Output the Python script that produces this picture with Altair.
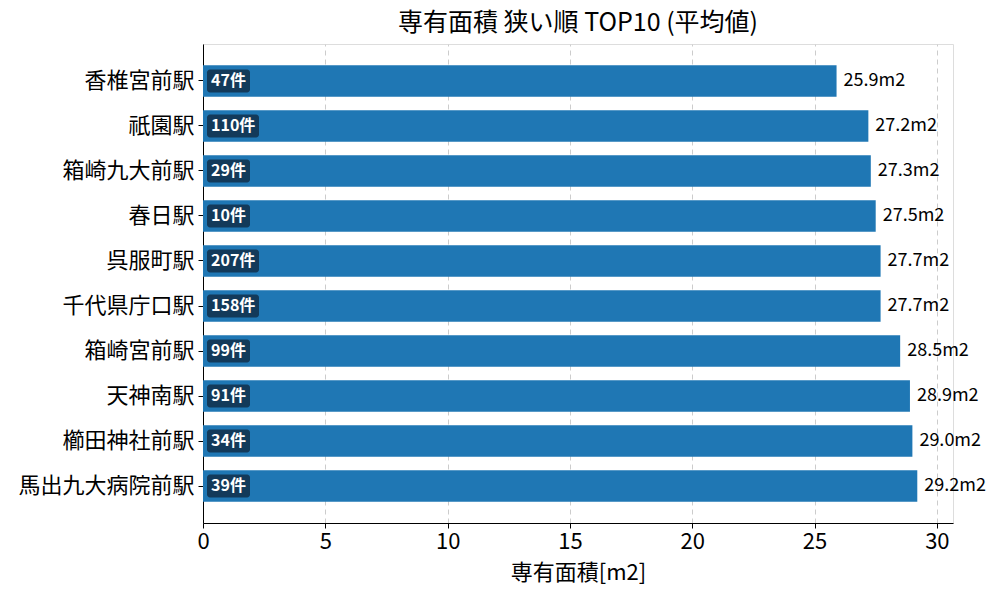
import altair as alt
import pandas as pd

stations = ["香椎宮前駅", "祇園駅", "箱崎九大前駅", "春日駅", "呉服町駅",
            "千代県庁口駅", "箱崎宮前駅", "天神南駅", "櫛田神社前駅", "馬出九大病院前駅"]
areas = [25.9, 27.2, 27.3, 27.5, 27.7, 27.7, 28.5, 28.9, 29.0, 29.2]
counts = [47, 110, 29, 10, 207, 158, 99, 91, 34, 39]

W, H = 750, 479
XMAX = 30.66
PX = W / XMAX

df = pd.DataFrame({"station": stations, "area": areas, "count": counts})
df["area_label"] = df["area"].map(lambda v: f"{v:.1f}m2")
df["count_label"] = df["count"].map(lambda v: f"{v}件")
df["b0"] = 4 / PX
df["b1"] = df["count"].map(lambda v: (4 + 25 + 9 * len(str(v))) / PX)

FONT = "Noto Sans CJK JP"

yenc = alt.Y("station:N", sort=stations, title=None,
             scale=alt.Scale(paddingInner=0.3, paddingOuter=0.47),
             axis=alt.Axis(labelFontSize=22, labelFont=FONT, labelColor="black",
                           tickColor="black", tickSize=5, labelPadding=4,
                           domainColor="black"))
xscale = alt.Scale(domain=[0, XMAX], nice=False)

base = alt.Chart(df)

bars = base.mark_bar(color="#1f77b4").encode(
    x=alt.X("area:Q", scale=xscale, title="専有面積[m2]",
            axis=alt.Axis(values=[0, 5, 10, 15, 20, 25, 30], format="d",
                          labelFontSize=22, labelFont=FONT, labelColor="black",
                          labelFlush=False,
                          titleFontSize=22, titleFont=FONT, titleFontWeight="normal",
                          titleColor="black", tickColor="black", tickSize=5,
                          domainColor="black", grid=True, gridDash=[5, 4],
                          gridColor="#cccccc", labelPadding=3, titlePadding=10)),
    y=yenc,
)

vals = base.mark_text(align="left", baseline="middle", dx=7, fontSize=18,
                      font=FONT, color="black").encode(
    x="area:Q", y=alt.Y("station:N", sort=stations), text="area_label:N")

badge = base.mark_rect(color="#133a5a", cornerRadius=3, height=23).encode(
    x="b0:Q", x2="b1:Q", y=alt.Y("station:N", sort=stations))

badge_text = base.mark_text(align="left", baseline="middle", dx=4, fontSize=16,
                            font=FONT, fontWeight="bold", color="white").encode(
    x="b0:Q", y=alt.Y("station:N", sort=stations), text="count_label:N")

chart = (bars + vals + badge + badge_text).properties(
    width=W, height=H,
    title=alt.TitleParams("専有面積 狭い順 TOP10 (平均値)", fontSize=25, font=FONT,
                          fontWeight="normal", color="black", offset=8),
    autosize=alt.AutoSizeParams(type="none"),
    padding={"left": 203, "top": 44, "right": 47, "bottom": 77},
).configure_view(stroke="black", strokeWidth=1.2).configure(background="white")

chart.save("out.html", embed_options={"renderer": "svg", "actions": False})
